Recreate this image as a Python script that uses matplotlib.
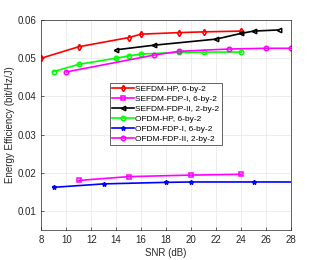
import numpy as np
import matplotlib.pyplot as plt

plt.rcParams['font.family'] = ['Liberation Sans', 'DejaVu Sans']

# SNR (dB) and energy efficiency (bit/Hz/J) per scheme
snr_sefdm_hp = [8, 11, 15, 16, 19, 21, 24]
ee_sefdm_hp = [0.0500, 0.0530, 0.0554, 0.0563, 0.0567, 0.0569, 0.0571]

snr_sefdm_fdp1 = [11, 15, 20, 24]
ee_sefdm_fdp1 = [0.0180, 0.0190, 0.0194, 0.0196]

snr_sefdm_fdp2 = [14, 17, 22, 24, 25, 27]
ee_sefdm_fdp2 = [0.0522, 0.0534, 0.0550, 0.0565, 0.0571, 0.0574]

snr_ofdm_hp = [9, 11, 14, 15, 16, 19, 21, 24]
ee_ofdm_hp = [0.0465, 0.0484, 0.0500, 0.0506, 0.0511, 0.0515, 0.0516, 0.0516]

snr_ofdm_fdp1 = [9, 13, 18, 20, 25, 30]
ee_ofdm_fdp1 = [0.0162, 0.0171, 0.0175, 0.0176, 0.0176, 0.0176]

snr_ofdm_fdp2 = [10, 17, 19, 23, 26, 28]
ee_ofdm_fdp2 = [0.0464, 0.0508, 0.0518, 0.0524, 0.0526, 0.0526]

fig = plt.figure(figsize=(3.22, 2.6), dpi=100)
ax = fig.add_axes([0.128, 0.115, 0.776, 0.808])

kw = dict(lw=1.2, ms=3.2, mew=1.1, mfc="none", clip_on=True)
ax.plot(snr_sefdm_hp, ee_sefdm_hp, color="red", marker="d", label="SEFDM-HP, 6-by-2", **kw)
ax.plot(snr_sefdm_fdp1, ee_sefdm_fdp1, color="magenta", marker="s", label="SEFDM-FDP-I, 6-by-2", **kw)
ax.plot(snr_sefdm_fdp2, ee_sefdm_fdp2, color="black", marker="<", label="SEFDM-FDP-II, 2-by-2", **kw)
ax.plot(snr_ofdm_hp, ee_ofdm_hp, color="#00ff00", marker="o", label="OFDM-HP, 6-by-2", **kw)
ax.plot(snr_ofdm_fdp1, ee_ofdm_fdp1, color="blue", marker="*", label="OFDM-FDP-I, 6-by-2", **kw)
ax.plot(snr_ofdm_fdp2, ee_ofdm_fdp2, color="magenta", marker="o", label="OFDM-FDP-II, 2-by-2", **kw)

ax.set_xlim(8, 28)
ax.set_ylim(0.005, 0.06)
ax.set_xticks(np.arange(8, 29, 2))
ax.set_yticks([0.01, 0.02, 0.03, 0.04, 0.05, 0.06])
ax.tick_params(labelsize=7, direction="in", length=2, width=0.5, colors="#262626")
ax.grid(True, color="#e6e6e6", lw=0.5)
for s in ax.spines.values():
    s.set_linewidth(0.5)
    s.set_color("#262626")
ax.set_xlabel("SNR (dB)", fontsize=7, color="#262626", labelpad=2)
ax.set_ylabel("Energy Efficiency (bit/Hz/J)", fontsize=7, color="#262626", labelpad=2)

leg = ax.legend(loc="upper left", bbox_to_anchor=(0.275, 0.70), borderaxespad=0,
                fontsize=6, fancybox=False, framealpha=1, handlelength=2.6,
                handletextpad=0.1, labelspacing=0.25, borderpad=0.3)
leg.get_frame().set_edgecolor("#262626")
leg.get_frame().set_linewidth(0.5)

fig.savefig("out.png", dpi=100)
